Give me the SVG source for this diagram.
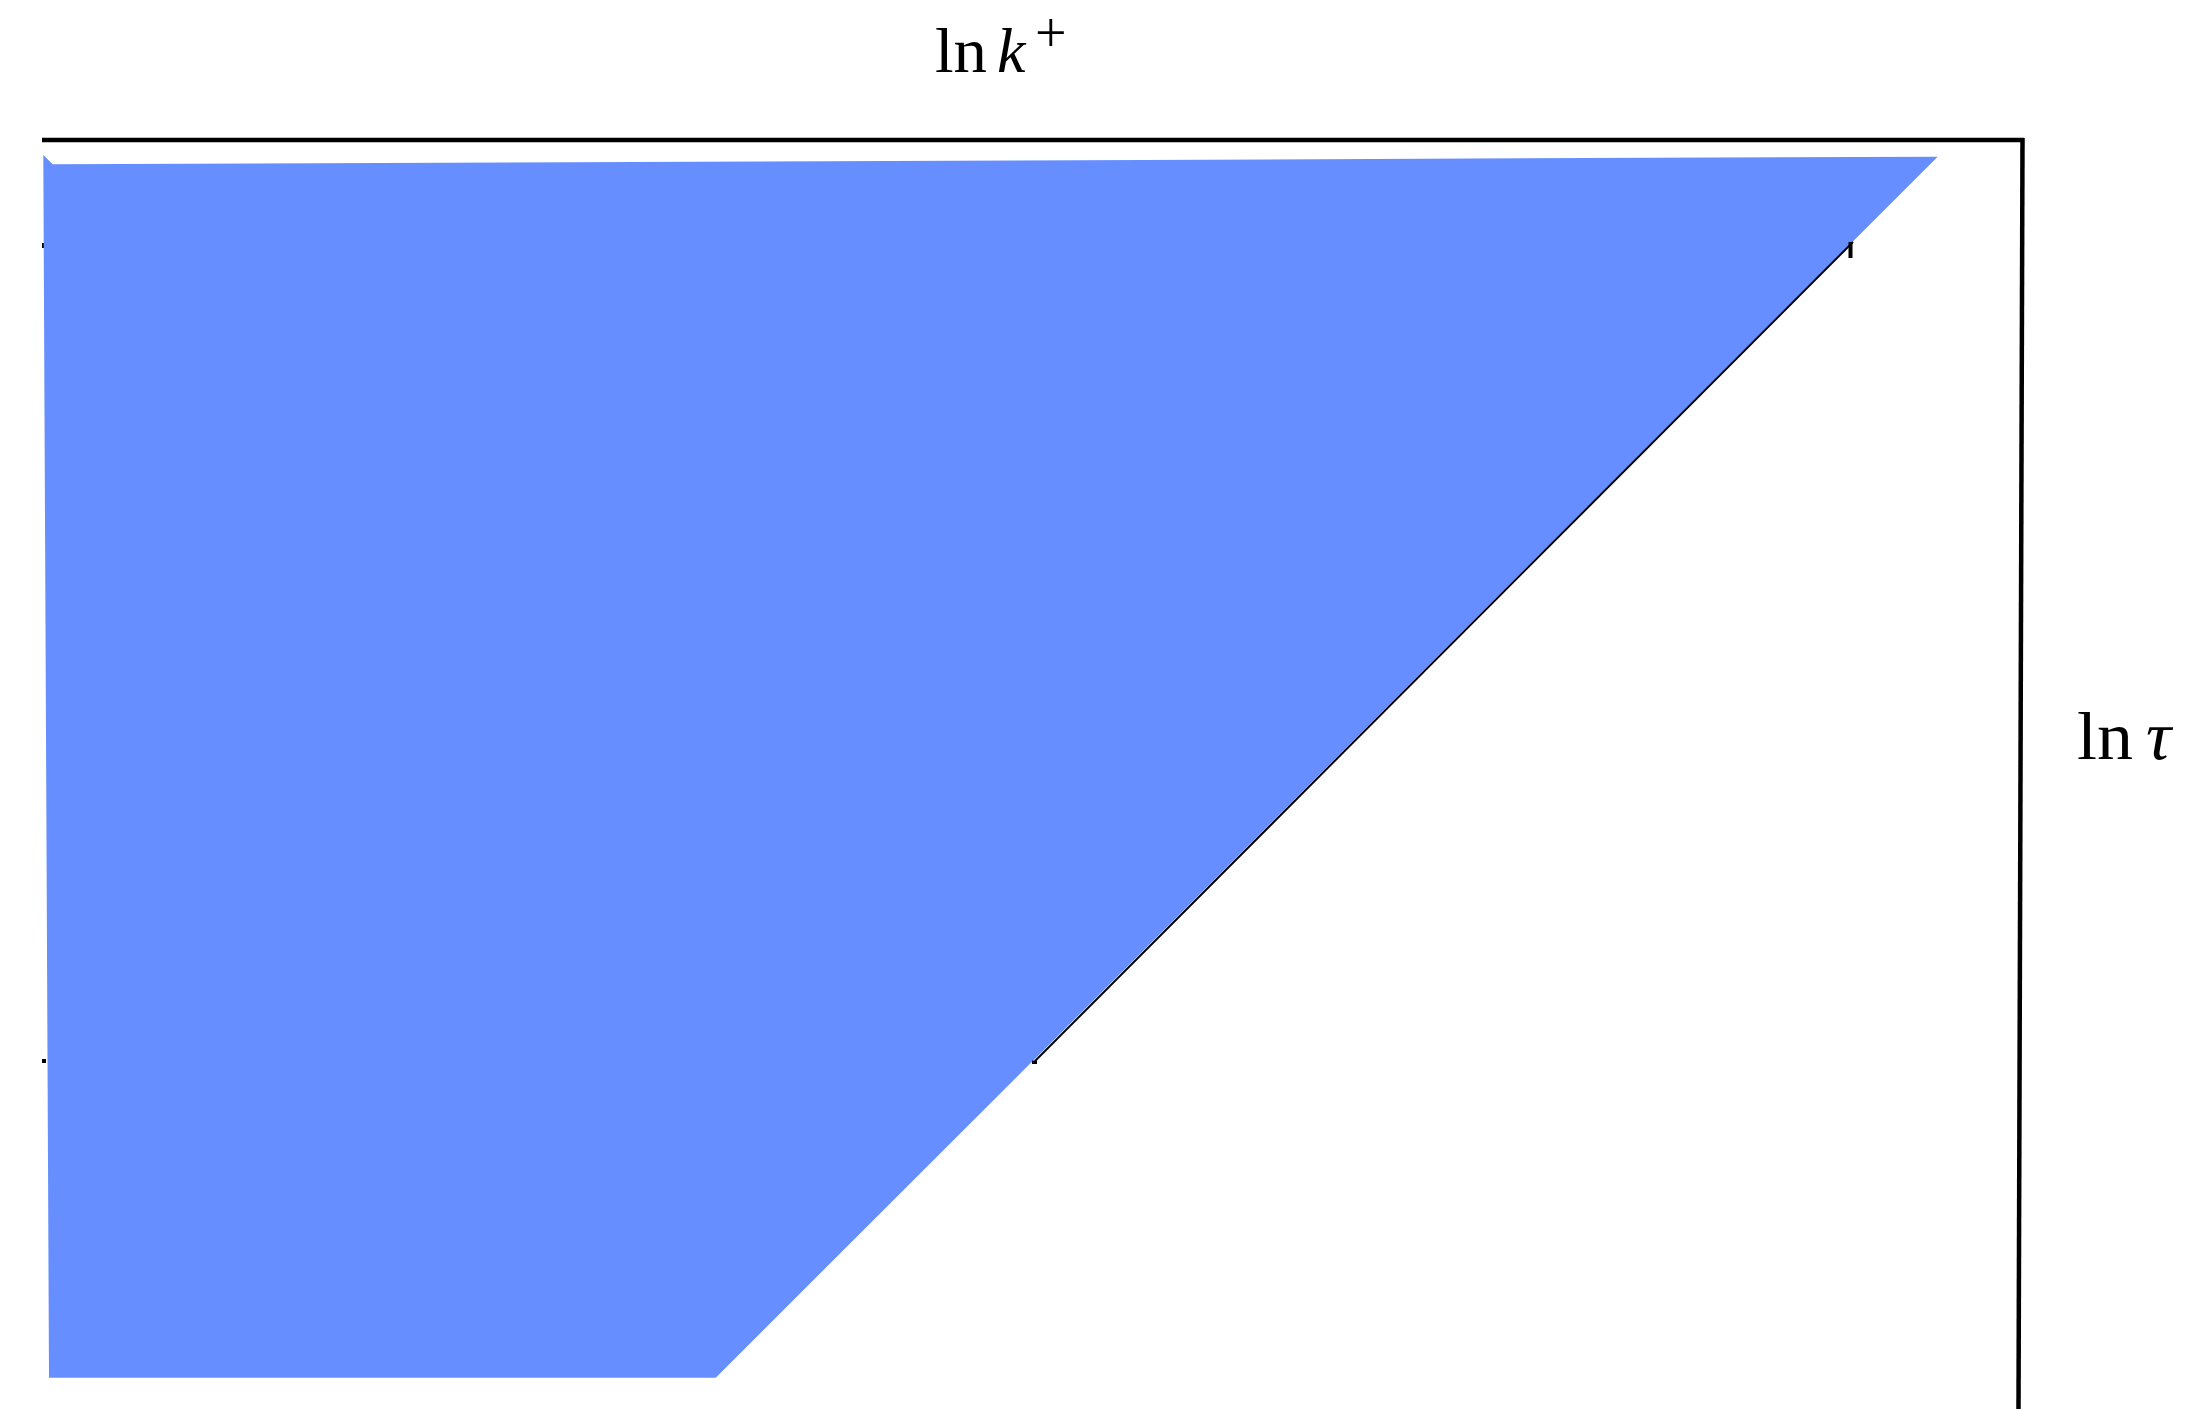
<svg xmlns="http://www.w3.org/2000/svg" width="2197" height="1409" viewBox="0 0 2197 1409">
<style>
.lbl{font-family:"Liberation Serif","DejaVu Serif",serif;fill:#000}
.it{font-style:italic}
.ax{stroke:#000;stroke-width:4.5;fill:none}
</style>
<rect width="2197" height="1409" fill="#fff"/>
<g id="ticks" fill="#000">
<rect x="42" y="243" width="3" height="5"/>
<rect x="42" y="1059" width="4" height="4"/>
</g>
<g id="region">
<polygon points="43.3,155 52.7,164.3 1937.7,156.7 715.7,1377.7 49,1377.7" fill="#668eff"/>
</g>
<g id="connectors">
<line x1="1853" y1="242" x2="1035" y2="1061" stroke="#000" stroke-width="2"/>
<rect x="1848.5" y="242" width="4" height="16" fill="#000"/>
<rect x="1032" y="1060.5" width="5" height="3.5" fill="#000"/>
<line class="ax" x1="42" y1="140" x2="2024" y2="140"/>
<line class="ax" x1="2022.5" y1="138" x2="2018.5" y2="1409"/>
</g>
<g id="label-k">
<text class="lbl" x="935" y="72" font-size="64" textLength="52" lengthAdjust="spacingAndGlyphs">ln</text>
<text class="lbl it" x="997" y="72" font-size="64">k</text>
<text class="lbl" x="1035" y="52" font-size="56">+</text>
</g>
<g id="label-tau">
<text class="lbl" x="2077" y="759" font-size="67" textLength="56" lengthAdjust="spacingAndGlyphs">ln</text>
<text class="lbl it" x="2146" y="759" font-size="70">τ</text>
</g>
</svg>
